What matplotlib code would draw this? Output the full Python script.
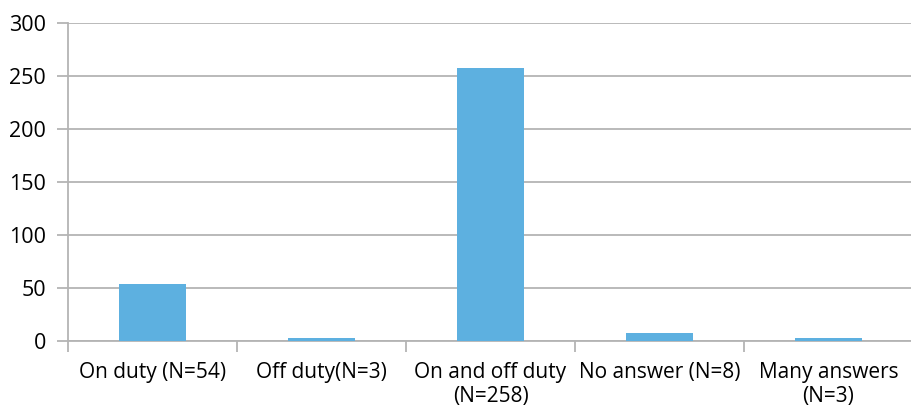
import matplotlib.pyplot as plt
import numpy as np

categories = ['On duty (N=54)', 'Off duty(N=3)', 'On and off duty\n(N=258)',
              'No answer (N=8)', 'Many answers\n(N=3)']
counts = [54, 3, 258, 8, 3]
yticks = [0, 50, 100, 150, 200, 250, 300]

plt.rcParams['font.family'] = ['Open Sans', 'DejaVu Sans']

fig = plt.figure(figsize=(9.11, 4.11), dpi=100)
ax = fig.add_axes([68 / 911, 1 - 341 / 411, 845 / 911, 318 / 411])

x = np.arange(len(categories))
ax.bar(x, counts, width=0.4, color='#5DB0E0', zorder=3)

ax.set_xlim(-0.5, len(categories) - 0.5)
ax.set_ylim(0, 300)
ax.set_yticks(yticks)
ax.yaxis.grid(True, color='#B4B4B4', linewidth=1.3, zorder=0)

# category labels centred, tick marks on the boundaries
ax.set_xticks(x)
ax.set_xticklabels(categories, fontsize=15, linespacing=1.2)
ax.tick_params(axis='x', length=0, pad=15)
ax.set_xticks(np.arange(len(categories) + 1) - 0.5, minor=True)
ax.tick_params(axis='x', which='minor', length=8, color='#B4B4B4', width=1.3)
ax.tick_params(axis='y', length=8, color='#B4B4B4', width=1.3, labelsize=15.5, pad=8)

for side in ['top', 'right']:
    ax.spines[side].set_visible(False)
for side in ['left', 'bottom']:
    ax.spines[side].set_color('#B4B4B4')
    ax.spines[side].set_linewidth(1.3)

fig.savefig('out.png', dpi=100)
